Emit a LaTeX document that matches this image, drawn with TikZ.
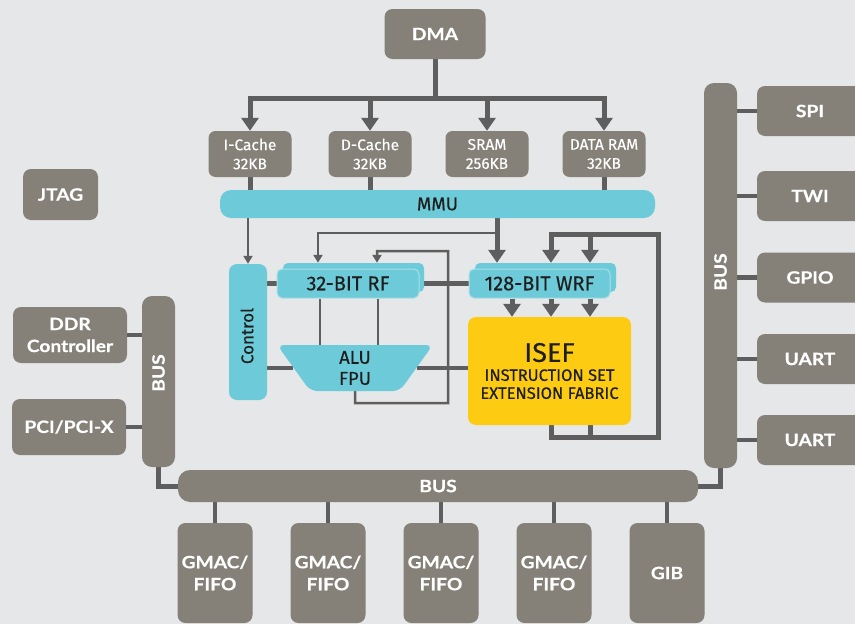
\documentclass[tikz,border=0pt]{standalone}
\usepackage{fontspec}
\setmainfont{Fira Sans}
\newfontfamily\lbl[FakeStretch=1.13,FakeBold=0.5]{Lato}
\newfontfamily\fira{Fira Sans}
\newfontfamily\firab[FakeBold=0.3]{Fira Sans}
\usetikzlibrary{arrows.meta,shapes.geometric}
\pgfdeclarelayer{bg}
\pgfdeclarelayer{lines}
\pgfsetlayers{bg,lines,main}
\definecolor{bgc}{HTML}{E6E7E8}
\definecolor{gboxc}{HTML}{858078}
\definecolor{lnc}{HTML}{5E5E5E}
\definecolor{cyn}{HTML}{6DCAD8}
\definecolor{cynl}{HTML}{A8E0E8}
\definecolor{ylwc}{HTML}{FDCC12}
\definecolor{txtc}{HTML}{1E1E1E}
\begin{document}
\begin{tikzpicture}[x=1pt,y=-1pt,
  gb/.style={fill=gboxc, rounded corners=8pt, inner sep=0pt, text=white, align=center, font=\lbl\bfseries\fontsize{17}{22}\selectfont},
  cb/.style={fill=gboxc, rounded corners=7pt, inner sep=0pt, text=white, align=center, font=\firab\fontsize{15.5}{19}\selectfont, minimum width=83pt, minimum height=46pt},
  cy/.style={fill=cyn, inner sep=0pt, text=txtc, align=center, font=\firab\fontsize{18.5}{21}\selectfont},
  ln/.style={draw=lnc, line width=5pt},
  md/.style={draw=lnc, line width=4.5pt},
  tn/.style={draw=lnc, line width=2.5pt},
  ta/.style={-{Triangle[width=17pt,length=13pt]}},
  sa/.style={-{Triangle[width=9pt,length=8pt]}},
  vt/.style={text=white, rotate=90, inner sep=0pt, font=\lbl\bfseries\fontsize{17}{20}\selectfont}
]
\begin{pgfonlayer}{bg}
\fill[bgc] (0,0) rectangle (855,624);
\end{pgfonlayer}
\useasboundingbox (0,0) rectangle (855,624);

% top
\node[gb, minimum width=101pt, minimum height=50pt] (dma) at (435,34) {DMA};
\node[gb, minimum width=75pt, minimum height=51pt] (jtag) at (60.5,194.5) {JTAG};
\node[cb] (ic) at (250,154) {I-Cache\\32KB};
\node[cb] (dc) at (370,154) {D-Cache\\32KB};
\node[cb] (sr) at (487,154) {SRAM\\256KB};
\node[cb] (dr) at (604,154) {DATA RAM\\32KB};
\node[cy, rounded corners=11pt, minimum width=435pt, minimum height=28pt] (mmu) at (437.5,204) {MMU};

% core
\node[cy, rounded corners=8pt, minimum width=38pt, minimum height=136pt] (ctrl) at (248,332) {};
\node[rotate=90, inner sep=0pt, text=txtc, font=\firab\fontsize{17}{20}\selectfont] (ctrlt) at (247,336) {Control};
\node[cy, rounded corners=5pt, minimum width=141pt, minimum height=29pt] (rfb) at (353.5,277.5) {};
\node[cy, draw=cynl, line width=1pt, rounded corners=5pt, minimum width=142pt, minimum height=29pt, font=\firab\fontsize{20}{21}\selectfont] (rf) at (348,283.5) {32-BIT RF};
\node[cy, rounded corners=5pt, minimum width=141pt, minimum height=29pt] (wrfb) at (545.5,277.5) {};
\node[cy, draw=cynl, line width=1pt, rounded corners=5pt, minimum width=141pt, minimum height=29pt, font=\firab\fontsize{20}{21}\selectfont] (wrf) at (539.5,283.5) {128-BIT WRF};
\node[cy, shape=trapezium, shape border rotate=180, trapezium angle=70.8, trapezium stretches=true, minimum width=156pt, minimum height=46pt, rounded corners=7pt] (alu) at (355,368) {ALU\\FPU};
\node[fill=ylwc, rounded corners=8pt, minimum width=163pt, minimum height=108pt, inner sep=0pt, align=center, text=txtc, font=\firab\fontsize{16.5}{18}\selectfont] (isef) at (549.5,371) {{\fontsize{27}{27}\selectfont ISEF}\\[1pt]INSTRUCTION SET\\EXTENSION FABRIC};

% left
\node[gb, minimum width=114pt, minimum height=56pt] (ddr) at (70,335) {DDR\\Controller};
\node[gb, minimum width=114pt, minimum height=56pt] (pci) at (69,427) {PCI/PCI-X};
\node[gb, rounded corners=10pt, minimum width=33pt, minimum height=171pt] (lbus) at (158.5,381.5) {};
\node[vt] (lbust) at (158.5,373) {BUS};

% bottom
\node[gb, rounded corners=12pt, minimum width=520pt, minimum height=32pt] (bbus) at (438,486) {BUS};
\foreach \i/\x in {1/215,2/328,3/441,4/554}
  \node[gb, minimum width=75pt, minimum height=100pt] (g\i) at (\x,573) {GMAC/\\FIFO};
\node[gb, minimum width=75pt, minimum height=100pt] (gib) at (667,573) {GIB};

% right
\node[gb, rounded corners=10pt, minimum width=33pt, minimum height=385pt] (rbus) at (720.5,275.5) {};
\node[vt] (rbust) at (720.5,272) {BUS};
\node[gb, minimum width=106pt, minimum height=50pt] (spi) at (810,111) {SPI};
\node[gb, minimum width=106pt, minimum height=50pt] (twi) at (810,196) {TWI};
\node[gb, minimum width=106pt, minimum height=50pt] (gpio) at (810,277.5) {GPIO};
\node[gb, minimum width=106pt, minimum height=50pt] (ua1) at (810,359) {UART};
\node[gb, minimum width=106pt, minimum height=50pt] (ua2) at (810,440) {UART};

\begin{pgfonlayer}{lines}
\coordinate (hb) at (435,98);
\draw[ln] (dma.south) -- (hb);
\draw[ln,ta] (hb) -| (ic.north);
\draw[ln,ta] (hb) -| (dr.north);
\draw[ln,ta] (dc.north |- hb) -- (dc.north);
\draw[ln,ta] (sr.north |- hb) -- (sr.north);
\foreach \n in {ic,dc,dr} \draw[ln] (\n.south) -- (\n.south |- mmu.north);

\draw[tn,sa] (ctrl.north |- mmu.south) -- (ctrl.north);
\coordinate (j0) at (497,233);
\draw[ln,ta] (497,0 |- mmu.south) -- (497,0 |- wrfb.north);
\draw[tn,sa] (j0) -| (318,0 |- rfb.north);
\draw[tn,sa] (alu.south) -- (355,403) -- (448,403) -- (448,251) -- (377,251) -- (377,0 |- rfb.north);
\draw[tn] (320,0 |- rf.south) -- (320,0 |- alu.north);
\draw[tn] (378,0 |- rf.south) -- (378,0 |- alu.north);
\draw[md] (ctrl.east |- rf.west) -- (rf.west);
\draw[md] (rf.east) -- (wrf.west);
\draw[md] (ctrl.east |- alu.west) -- (alu.west);
\draw[md] (alu.east) -- (isef.west |- alu.east);
\foreach \x in {512,551,590} \draw[ln,ta] (\x,0 |- wrf.south) -- (\x,0 |- isef.north);
\draw[ln,ta] (551,0 |- isef.south) -- (551,437) -- (658,437) -- (658,234) -- (551,234) -- (551,0 |- wrfb.north);
\draw[ln] (590,0 |- isef.south) -- (590,437);
\draw[ln,ta] (590,234) -- (590,0 |- wrfb.north);

\draw[md] (ddr.east) -- (ddr.east -| lbus.west);
\draw[md] (pci.east) -- (pci.east -| lbus.west);
\draw[ln] (lbus.south) |- (bbus.west);
\draw[ln] (rbus.south) |- (bbus.east);
\foreach \n in {g1,g2,g3,g4,gib} \draw[md] (\n.north |- bbus.south) -- (\n.north);
\foreach \n in {spi,twi,gpio,ua1,ua2} \draw[md] (\n.west) -- (\n.west -| rbus.east);
\end{pgfonlayer}
\end{tikzpicture}
\end{document}
